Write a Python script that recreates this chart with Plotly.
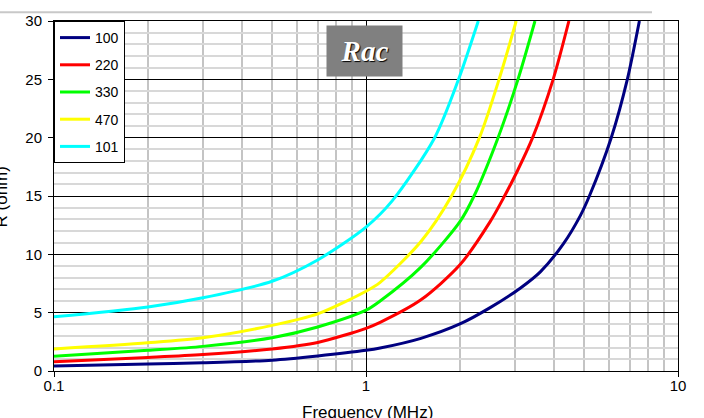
import plotly.graph_objects as go

# ---- data (frequency in MHz, resistance in ohm) ----
names = ["100", "220", "330", "470", "101"]
colors = ["#000080", "#FF0000", "#00FF00", "#FFFF00", "#00FFFF"]

f_100 = [0.1, 0.2, 0.3, 0.5, 0.7, 1.0, 1.11, 1.5, 2.0, 2.5, 3.12, 3.62, 4.29, 4.86, 5.2, 6.11, 6.88, 7.52]
r_100 = [0.42, 0.59, 0.70, 0.93, 1.29, 1.77, 1.97, 2.8, 4.03, 5.43, 7.1, 8.5, 10.9, 13.3, 15, 20, 25, 30]

f_220 = [0.1, 0.2, 0.3, 0.5, 0.7, 1.0, 1.11, 1.5, 2.0, 2.5, 2.78, 3.05, 3.42, 3.98, 4.47]
r_220 = [0.79, 1.16, 1.41, 1.89, 2.45, 3.66, 4.17, 6.1, 9.1, 12.8, 15, 17.1, 20, 25, 30]

f_330 = [0.1, 0.2, 0.3, 0.5, 0.7, 1.0, 1.11, 1.5, 2.0, 2.22, 2.65, 3.07, 3.48]
r_330 = [1.27, 1.77, 2.11, 2.85, 3.77, 5.21, 6.0, 8.9, 12.8, 15, 20, 25, 30]

f_470 = [0.1, 0.2, 0.3, 0.5, 0.7, 1.0, 1.11, 1.5, 1.88, 2.31, 2.67, 3.03]
r_470 = [1.89, 2.42, 2.85, 3.91, 4.9, 6.84, 7.6, 11.1, 15, 20, 25, 30]

f_101 = [0.1, 0.2, 0.3, 0.5, 0.7, 1.0, 1.215, 1.66, 1.98, 2.29]
r_101 = [4.64, 5.49, 6.28, 7.69, 9.52, 12.33, 14.6, 20, 25, 30]

freqs = [f_100, f_220, f_330, f_470, f_101]
values = [r_100, r_220, r_330, r_470, r_101]

x_ticks = [0.1, 1, 10]
x_ticktext = ["0.1", "1", "10"]
x_minor = [0.2, 0.3, 0.4, 0.5, 0.6, 0.7, 0.8, 0.9, 2, 3, 4, 5, 6, 7, 8, 9]

FONT = "Liberation Sans, Arial, sans-serif"

fig = go.Figure()
for n, c, fx, ry in zip(names, colors, freqs, values):
    fig.add_trace(go.Scatter(
        x=fx, y=ry, mode="lines", name=n, legendgroup=n,
        line=dict(color=c, width=3, shape="spline", smoothing=0.8),
    ))

W, H = 704, 418
ML, MR, MT, MB = 54, 26, 16, 47
PW, PH = W - ML - MR, H - MT - MB

def px_x(p):
    return (p - ML) / PW

def px_y(p):
    return (H - MB - p) / PH

fig.update_layout(
    width=W, height=H,
    margin=dict(l=ML, r=MR, t=MT, b=MB, pad=0),
    paper_bgcolor="white", plot_bgcolor="white",
    font=dict(family=FONT, size=15, color="black"),
    showlegend=True,
    legend=dict(
        x=0, y=1, xanchor="left", yanchor="top",
        bgcolor="white", bordercolor="black", borderwidth=1,
        font=dict(family=FONT, size=14, color="black"),
        tracegroupgap=6,
    ),
    xaxis=dict(
        type="log", range=[-1, 1],
        tickvals=x_ticks, ticktext=x_ticktext,
        showgrid=True, gridcolor="black", gridwidth=1,
        showline=True, linecolor="black", linewidth=1, mirror=True,
        ticks="outside", ticklen=5, tickcolor="black",
        tickfont=dict(family=FONT, size=15),
        ticklabelstandoff=-4,
        zeroline=False,
        minor=dict(tickvals=x_minor, showgrid=True, gridcolor="#c4c4c4", gridwidth=1.5, ticks=""),
    ),
    yaxis=dict(
        range=[0, 30], dtick=5, tick0=0,
        showgrid=True, gridcolor="black", gridwidth=1,
        showline=True, linecolor="black", linewidth=1, mirror=True,
        ticks="outside", ticklen=5, tickcolor="black",
        tickfont=dict(family=FONT, size=15),
        ticklabelstandoff=3,
        zeroline=False,
        minor=dict(dtick=1, showgrid=True, gridcolor="#d8d8d8", gridwidth=1.5, ticks=""),
    ),
)

# top decorative gray line
fig.add_shape(type="line", xref="paper", yref="paper",
              x0=px_x(0), x1=px_x(652), y0=px_y(7), y1=px_y(7),
              line=dict(color="#c8c8c8", width=2), layer="above")

# "Rac" label box
fig.add_annotation(
    xref="paper", yref="paper", x=px_x(364.5), y=px_y(46),
    xanchor="center", yanchor="middle",
    text="<b><i>Rac</i></b>", showarrow=False,
    width=75, height=50, bgcolor="#808080", borderpad=0,
    font=dict(family="Liberation Serif, Times New Roman, serif", size=29, color="white",
              shadow="1px 1px 1px black"),
)

# axis titles
fig.add_annotation(
    xref="paper", yref="paper", x=px_x(1), y=px_y(195),
    xanchor="center", yanchor="middle", textangle=-90,
    text="R (ohm)", showarrow=False,
    font=dict(family=FONT, size=17, color="black"),
)
fig.add_annotation(
    xref="paper", yref="paper", x=px_x(367), y=px_y(413),
    xanchor="center", yanchor="middle",
    text="Frequency (MHz)", showarrow=False,
    font=dict(family=FONT, size=17, color="black"),
)

fig.write_html(
    "out.html",
    config={"displayModeBar": False},
    post_script="document.body.style.margin='0';document.body.style.padding='0';"
                "document.documentElement.style.overflow='hidden';",
)
